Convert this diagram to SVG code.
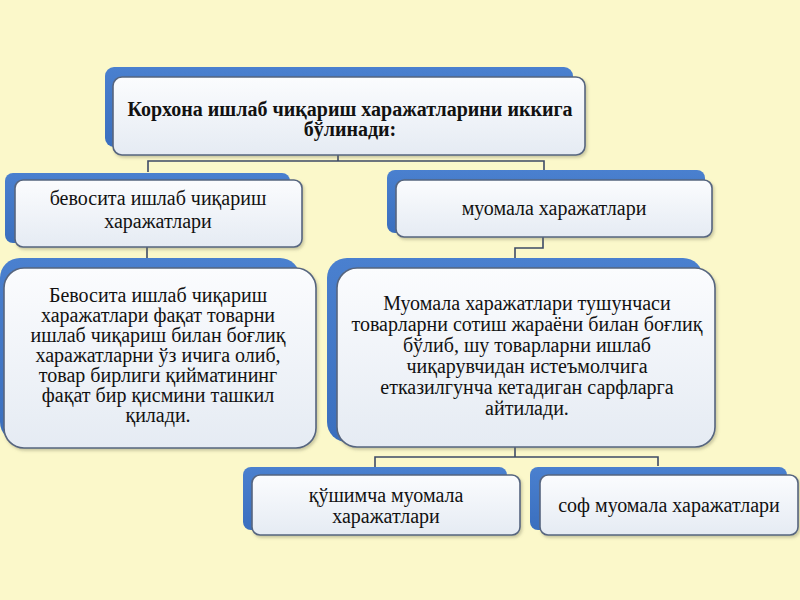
<svg xmlns="http://www.w3.org/2000/svg" width="800" height="600" viewBox="0 0 800 600">
<defs>
<linearGradient id="wg" x1="0" y1="0" x2="0" y2="1">
<stop offset="0" stop-color="#FBFCFE"/>
<stop offset="1" stop-color="#E5EBF3"/>
</linearGradient>
<linearGradient id="bg" x1="0" y1="0" x2="0" y2="1">
<stop offset="0" stop-color="#4A80CF"/>
<stop offset="1" stop-color="#3A6FBF"/>
</linearGradient>
<filter id="sh" x="-5%" y="-5%" width="112%" height="120%">
<feDropShadow dx="1.5" dy="2" stdDeviation="1.5" flood-color="#6b6b50" flood-opacity="0.35"/>
</filter>
</defs>
<style>
.blue{fill:url(#bg);}
.box{fill:url(#wg);stroke:#56657F;stroke-width:1.6;filter:url(#sh);}
.t{font-family:"Liberation Serif","Times New Roman",serif;font-size:20px;fill:#111;text-anchor:middle;}
.b{font-weight:bold;}
.c{fill:none;stroke:#3E4A66;stroke-width:1.6;}
</style>
<rect width="800" height="600" fill="#FBF8CA"/>
<g id="connectors">
<path class="c" d="M338 155V161M148 172V161H544V171"/>
<path class="c" d="M147 247V259"/>
<path class="c" d="M543 237V248H515V258"/>
<path class="c" d="M515 447V457M375 467V457H658V466"/>
</g>
<g id="n0">
<rect class="blue" x="105" y="67" width="468" height="80" rx="9"/>
<rect class="box" x="113" y="77" width="472" height="78" rx="9"/>
<text class="t b" x="350" y="116">Корхона ишлаб чиқариш харажатларини иккига</text>
<text class="t b" x="350" y="136">бўлинади:</text>
</g>
<g id="n1">
<rect class="blue" x="5" y="173" width="285" height="70" rx="8"/>
<rect class="box" x="15" y="180" width="287" height="67" rx="8"/>
<text class="t" x="158" y="205">бевосита ишлаб чиқариш</text>
<text class="t" x="158" y="228">харажатлари</text>
</g>
<g id="n2">
<rect class="blue" x="387" y="170" width="318" height="63" rx="8"/>
<rect class="box" x="396" y="180" width="316" height="57" rx="8"/>
<text class="t" x="554" y="215">муомала харажатлари</text>
</g>
<g id="n3">
<rect class="blue" x="0" y="258" width="300" height="184" rx="20"/>
<rect class="box" x="4" y="268" width="312" height="180" rx="20"/>
<text class="t" x="158" y="302">Бевосита ишлаб чиқариш</text>
<text class="t" x="158" y="322">харажатлари фақат товарни</text>
<text class="t" x="158" y="342">ишлаб чиқариш билан боғлиқ</text>
<text class="t" x="158" y="362">харажатларни ўз ичига олиб,</text>
<text class="t" x="158" y="382">товар бирлиги қийматининг</text>
<text class="t" x="158" y="402">фақат бир қисмини ташкил</text>
<text class="t" x="158" y="422">қилади.</text>
</g>
<g id="n4">
<rect class="blue" x="327" y="258" width="376" height="184" rx="20"/>
<rect class="box" x="337" y="268" width="378" height="179" rx="20"/>
<text class="t" x="527" y="310">Муомала харажатлари тушунчаси</text>
<text class="t" x="527" y="331">товарларни сотиш жараёни билан боғлиқ</text>
<text class="t" x="527" y="352">бўлиб, шу товарларни ишлаб</text>
<text class="t" x="527" y="373">чиқарувчидан истеъмолчига</text>
<text class="t" x="527" y="394">етказилгунча кетадиган сарфларга</text>
<text class="t" x="527" y="415">айтилади.</text>
</g>
<g id="n5">
<rect class="blue" x="243" y="467" width="264" height="63" rx="8"/>
<rect class="box" x="252" y="475" width="268" height="60" rx="8"/>
<text class="t" x="386" y="502">қўшимча муомала</text>
<text class="t" x="386" y="523">харажатлари</text>
</g>
<g id="n6">
<rect class="blue" x="530" y="467" width="257" height="63" rx="8"/>
<rect class="box" x="540" y="475" width="258" height="60" rx="8"/>
<text class="t" x="669" y="512">соф муомала харажатлари</text>
</g>
</svg>
